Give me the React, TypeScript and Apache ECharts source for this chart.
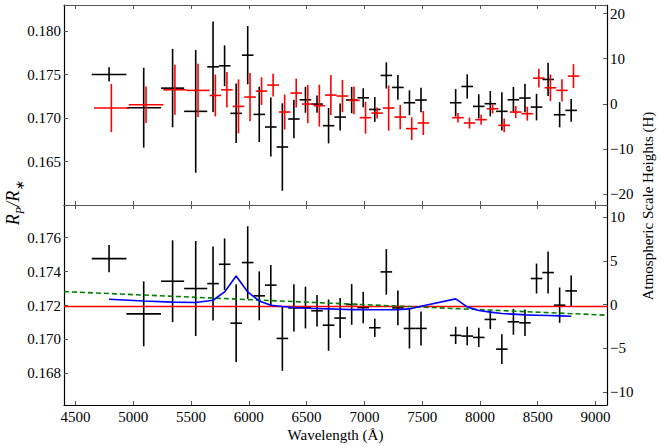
import React, { useEffect, useRef } from "react";
import * as echarts from "echarts";

// Bin centres (Angstrom) and half widths
const wavelength = [4790, 5090, 5340, 5540, 5690, 5790, 5890, 5990, 6090, 6190, 6290, 6390, 6490, 6590, 6690, 6790, 6890, 6990, 7090, 7190, 7290, 7390, 7490, 7790, 7890, 7990, 8090, 8190, 8290, 8390, 8490, 8590, 8690, 8790];
const binHalfWidth = [150, 150, 100, 100, 50, 50, 50, 50, 50, 50, 50, 50, 50, 50, 50, 50, 50, 50, 50, 50, 50, 50, 50, 50, 50, 50, 50, 50, 50, 50, 50, 50, 50, 50];

// Top panel: two data sets
const topBlackRatio = [0.17501, 0.17119, 0.17344, 0.17077, 0.17589, 0.17601, 0.17054, 0.17723, 0.17042, 0.16897, 0.16667, 0.16989, 0.17210, 0.17161, 0.16912, 0.17011, 0.17207, 0.17233, 0.17099, 0.17490, 0.17352, 0.17176, 0.17207, 0.17176, 0.17363, 0.17134, 0.17165, 0.17077, 0.17210, 0.17230, 0.17126, 0.17444, 0.17038, 0.17088];
const topBlackErr = [0.00082, 0.00459, 0.00451, 0.00706, 0.00520, 0.00235, 0.00342, 0.00335, 0.00318, 0.00339, 0.00503, 0.00222, 0.00149, 0.00099, 0.00203, 0.00155, 0.00151, 0.00109, 0.00143, 0.00151, 0.00143, 0.00143, 0.00140, 0.00157, 0.00140, 0.00140, 0.00145, 0.00220, 0.00147, 0.00163, 0.00153, 0.00191, 0.00145, 0.00130];
const redOffset = 20;
const topRedRatio = [0.17115, 0.17153, 0.17325, 0.17318, 0.17260, 0.17325, 0.17134, 0.17241, 0.17310, 0.17379, 0.17069, 0.17287, 0.17161, 0.17142, 0.17264, 0.17253, 0.17203, 0.17004, 0.17057, 0.17115, 0.17011, 0.16878, 0.16943, 0.17004, 0.16943, 0.16981, 0.17107, 0.16916, 0.17069, 0.17050, 0.17459, 0.17348, 0.17318, 0.17482];
const topRedErr = [0.00277, 0.00210, 0.00287, 0.00306, 0.00241, 0.00205, 0.00310, 0.00277, 0.00159, 0.00130, 0.00201, 0.00166, 0.00220, 0.00241, 0.00230, 0.00186, 0.00160, 0.00184, 0.00063, 0.00260, 0.00140, 0.00130, 0.00138, 0.00054, 0.00063, 0.00057, 0.00054, 0.00080, 0.00069, 0.00080, 0.00109, 0.00153, 0.00128, 0.00138];

// Bottom panel: combined data + models
const combinedRatio = [0.17476, 0.17151, 0.17343, 0.17300, 0.17329, 0.17443, 0.17096, 0.17453, 0.17257, 0.17320, 0.17006, 0.17186, 0.17188, 0.17169, 0.17084, 0.17126, 0.17206, 0.17188, 0.17069, 0.17398, 0.17186, 0.17065, 0.17065, 0.17024, 0.17020, 0.17012, 0.17118, 0.16943, 0.17104, 0.17098, 0.17359, 0.17394, 0.17202, 0.17286];
const combinedErr = [0.00080, 0.00191, 0.00241, 0.00280, 0.00218, 0.00152, 0.00229, 0.00214, 0.00144, 0.00118, 0.00191, 0.00139, 0.00123, 0.00093, 0.00151, 0.00118, 0.00120, 0.00093, 0.00054, 0.00134, 0.00103, 0.00118, 0.00100, 0.00051, 0.00055, 0.00057, 0.00057, 0.00088, 0.00076, 0.00078, 0.00088, 0.00124, 0.00104, 0.00091];
const modelRatio = [0.17237, 0.17227, 0.17220, 0.17218, 0.17231, 0.17280, 0.17374, 0.17280, 0.17227, 0.17202, 0.17194, 0.17188, 0.17184, 0.17182, 0.17180, 0.17178, 0.17176, 0.17176, 0.17175, 0.17175, 0.17176, 0.17180, 0.17196, 0.17239, 0.17192, 0.17171, 0.17161, 0.17153, 0.17149, 0.17145, 0.17143, 0.17141, 0.17139, 0.17137];
const slopeWavelength = [4400, 9100];
const slopeRatio = [0.17282, 0.17143];
const flatWavelength = [4400, 9100];
const flatRatio = [0.17194, 0.17194];

// Tick labels
const xTicks = [4500, 5000, 5500, 6000, 6500, 7000, 7500, 8000, 8500, 9000];
const topLeftTicks = [0.165, 0.170, 0.175, 0.180];
const topRightTicks = [-20, -10, 0, 10, 20];
const bottomLeftTicks = [0.168, 0.170, 0.172, 0.174, 0.176];
const bottomRightTicks = [-10, -5, 0, 5, 10];

const FONT = "Liberation Serif";

function errorRender(color: string) {
  return (params: any, api: any) => {
    const x = api.value(0);
    const y = api.value(1);
    const xe = api.value(2);
    const ye = api.value(3);
    const c = api.coord([x, y]);
    const l = api.coord([x - xe, y]);
    const r = api.coord([x + xe, y]);
    const t = api.coord([x, y + ye]);
    const b = api.coord([x, y - ye]);
    const style = { stroke: color, lineWidth: 1.6 };
    return {
      type: "group",
      children: [
        { type: "line", shape: { x1: l[0], y1: c[1], x2: r[0], y2: c[1] }, style },
        { type: "line", shape: { x1: c[0], y1: t[1], x2: c[0], y2: b[1] }, style },
      ],
    };
  };
}

const minusFmt = (v: number) => String(v).replace("-", "\u2212");

export default function App() {
  const ref = useRef<HTMLDivElement>(null);
  useEffect(() => {
    if (!ref.current) return;
    const chart = echarts.init(ref.current, undefined, { renderer: "svg" });
    const gridL = 64;
    const gridR = 54;
    const grids = [
      { left: gridL, right: gridR, top: 5, height: 200 },
      { left: gridL, right: gridR, top: 205, height: 200 },
    ];
    const labelStyle = { color: "#000", fontFamily: FONT, fontSize: 15 };
    const tickIn = (len: number, color: string, vals: number[]) => ({
      show: true,
      inside: true,
      length: len,
      lineStyle: { color, width: 1 },
      customValues: vals,
    });
    const xBase = {
      type: "value",
      min: 4400,
      max: 9100,
      splitLine: { show: false },
    };
    const xLine = (color: string) => ({ show: true, onZero: false, lineStyle: { color, width: 1.2 } });
    const xAxes = [
      { ...xBase, gridIndex: 0, position: "bottom", axisLine: xLine("#555"), axisTick: tickIn(4, "#555", xTicks), axisLabel: { show: false } },
      { ...xBase, gridIndex: 0, position: "top", axisLine: xLine("#555"), axisTick: tickIn(4, "#555", xTicks), axisLabel: { show: false } },
      {
        ...xBase, gridIndex: 1, position: "bottom",
        axisLine: xLine("#000"),
        axisTick: tickIn(4, "#555", xTicks),
        axisLabel: { ...labelStyle, margin: 4, customValues: xTicks, formatter: (v: number) => String(v) },
        name: "Wavelength (\u00c5)", nameLocation: "middle", nameGap: 22,
        nameTextStyle: { ...labelStyle },
      },
      { ...xBase, gridIndex: 1, position: "top", axisLine: xLine("#555"), axisTick: tickIn(4, "#555", xTicks), axisLabel: { show: false } },
    ];
    const yLine = { show: true, onZero: false, lineStyle: { color: "#000", width: 1.2 } };
    const yAxes = [
      {
        type: "value", gridIndex: 0, position: "left", min: 0.160, max: 0.183,
        splitLine: { show: false },
        axisLine: yLine,
        axisTick: tickIn(4, "#555", topLeftTicks),
        axisLabel: { ...labelStyle, margin: 3, customValues: topLeftTicks, formatter: (v: number) => v.toFixed(3) },
      },
      {
        type: "value", gridIndex: 0, position: "right", min: -22.4, max: 21.9,
        splitLine: { show: false },
        axisLine: yLine,
        axisTick: tickIn(4, "#555", topRightTicks),
        axisLabel: { ...labelStyle, margin: 3, customValues: topRightTicks, formatter: minusFmt },
      },
      {
        type: "value", gridIndex: 1, position: "left", min: 0.16614, max: 0.17792,
        splitLine: { show: false },
        axisLine: yLine,
        axisTick: tickIn(4, "#555", bottomLeftTicks),
        axisLabel: { ...labelStyle, margin: 3, customValues: bottomLeftTicks, formatter: (v: number) => v.toFixed(3) },
      },
      {
        type: "value", gridIndex: 1, position: "right", min: -11.5, max: 11.4,
        splitLine: { show: false },
        axisLine: yLine,
        axisTick: tickIn(4, "#555", bottomRightTicks),
        axisLabel: { ...labelStyle, margin: 3, customValues: bottomRightTicks, formatter: minusFmt },
      },
    ];

    const topBlackData = wavelength.map((w, i) => [w, topBlackRatio[i], binHalfWidth[i], topBlackErr[i]]);
    const topRedData = wavelength.map((w, i) => [w + redOffset, topRedRatio[i], binHalfWidth[i], topRedErr[i]]);
    const bottomData = wavelength.map((w, i) => [w, combinedRatio[i], binHalfWidth[i], combinedErr[i]]);

    const option: any = {
      animation: false,
      backgroundColor: "#fff",
      grid: grids,
      xAxis: xAxes,
      yAxis: yAxes,
      series: [
        {
          type: "custom", xAxisIndex: 0, yAxisIndex: 0, renderItem: errorRender("#000"),
          data: topBlackData, encode: { x: 0, y: 1 }, clip: true,
        },
        {
          type: "custom", xAxisIndex: 0, yAxisIndex: 0, renderItem: errorRender("#ff0000"),
          data: topRedData, encode: { x: 0, y: 1 }, clip: true,
        },
        {
          type: "custom", xAxisIndex: 2, yAxisIndex: 2, renderItem: errorRender("#000"),
          data: bottomData, encode: { x: 0, y: 1 }, clip: true,
        },
        {
          type: "line", xAxisIndex: 2, yAxisIndex: 2, showSymbol: false, silent: true,
          data: flatWavelength.map((w, i) => [w, flatRatio[i]]),
          lineStyle: { color: "#ff0000", width: 1.6 },
        },
        {
          type: "line", xAxisIndex: 2, yAxisIndex: 2, showSymbol: false, silent: true,
          data: slopeWavelength.map((w, i) => [w, slopeRatio[i]]),
          lineStyle: { color: "#008000", width: 1.6, type: [5, 3] },
        },
        {
          type: "line", xAxisIndex: 2, yAxisIndex: 2, showSymbol: false, silent: true,
          data: wavelength.map((w, i) => [w, modelRatio[i]]),
          lineStyle: { color: "#0000ff", width: 1.6 },
        },
      ],
      graphic: [
        {
          type: "text", x: 13, y: 203, rotation: Math.PI / 2,
          style: {
            text: "{i|R}{s|P}{i|/R}{s|\u2217}",
            textAlign: "center", textVerticalAlign: "middle",
            rich: {
              i: { fontFamily: FONT, fontStyle: "italic", fontSize: 18, lineHeight: 26, fill: "#000" },
              s: { fontFamily: FONT, fontStyle: "italic", fontSize: 12, lineHeight: 15, verticalAlign: "bottom", fill: "#000" },
            },
          },
        },
        {
          type: "text", x: 648, y: 206, rotation: Math.PI / 2,
          style: {
            text: "Atmospheric Scale Heights (H)",
            textAlign: "center", textVerticalAlign: "middle",
            fontFamily: FONT, fontSize: 15, fill: "#000",
          },
        },
      ],
    };
    chart.setOption(option);
    return () => chart.dispose();
  }, []);
  return (
    <div
      ref={ref}
      style={{ position: "fixed", left: 0, top: 0, width: 661, height: 447, background: "#fff" }}
    />
  );
}
